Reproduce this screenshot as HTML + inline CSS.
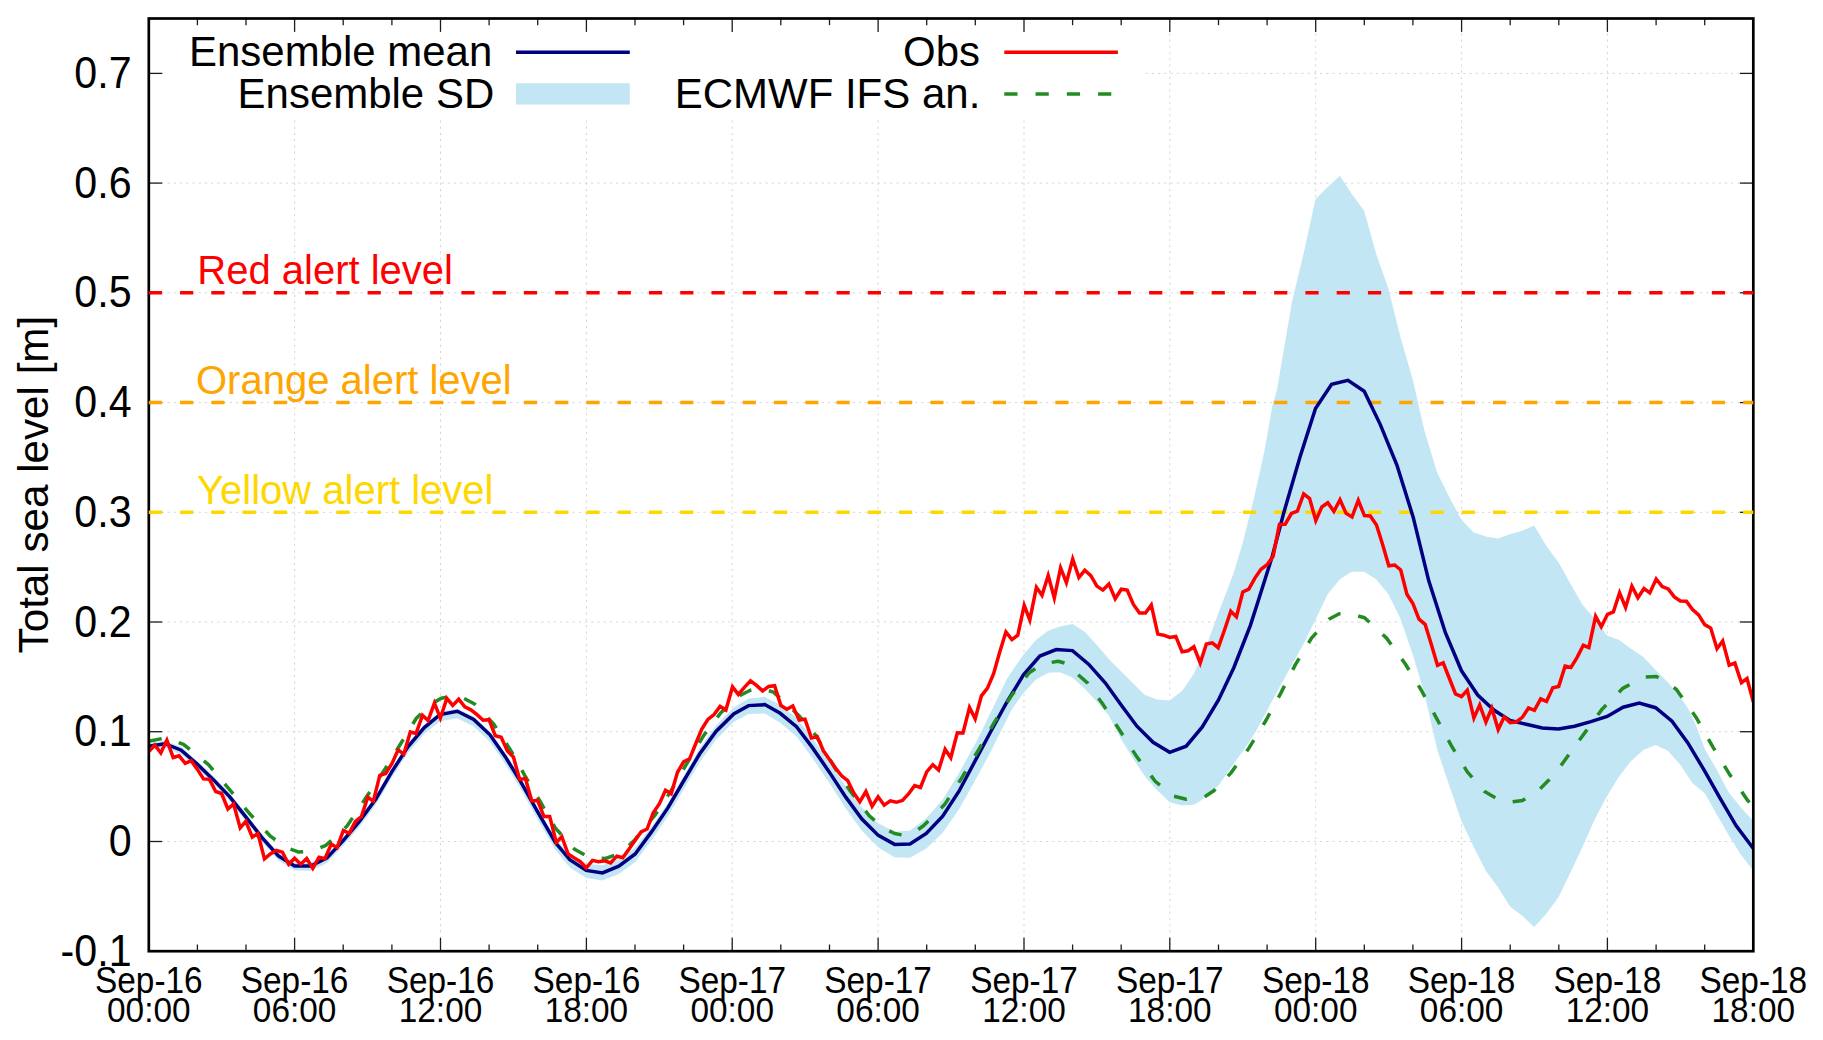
<!DOCTYPE html>
<html lang="en"><head><meta charset="utf-8"><title>Total sea level forecast</title>
<style>
html,body{margin:0;padding:0;background:#fff;}
body{width:1823px;height:1040px;overflow:hidden;}
svg{display:block;}
</style></head><body>
<svg width="1823" height="1040" viewBox="0 0 1823 1040">
<rect x="0" y="0" width="1823" height="1040" fill="#ffffff"/>
<g stroke="#d5d5d5" stroke-width="1.0" stroke-dasharray="2.2 4.03" fill="none">
<line x1="294.6" y1="951.2" x2="294.6" y2="18.5"/>
<line x1="440.5" y1="951.2" x2="440.5" y2="18.5"/>
<line x1="586.4" y1="951.2" x2="586.4" y2="18.5"/>
<line x1="732.2" y1="951.2" x2="732.2" y2="18.5"/>
<line x1="878.1" y1="951.2" x2="878.1" y2="18.5"/>
<line x1="1024.0" y1="951.2" x2="1024.0" y2="18.5"/>
<line x1="1169.8" y1="951.2" x2="1169.8" y2="18.5"/>
<line x1="1315.7" y1="951.2" x2="1315.7" y2="18.5"/>
<line x1="1461.6" y1="951.2" x2="1461.6" y2="18.5"/>
<line x1="1607.4" y1="951.2" x2="1607.4" y2="18.5"/>
<line x1="148.8" y1="841.5" x2="1753.3" y2="841.5"/>
<line x1="148.8" y1="731.7" x2="1753.3" y2="731.7"/>
<line x1="148.8" y1="622.0" x2="1753.3" y2="622.0"/>
<line x1="148.8" y1="512.3" x2="1753.3" y2="512.3"/>
<line x1="148.8" y1="402.6" x2="1753.3" y2="402.6"/>
<line x1="148.8" y1="292.8" x2="1753.3" y2="292.8"/>
<line x1="148.8" y1="183.1" x2="1753.3" y2="183.1"/>
<line x1="148.8" y1="73.4" x2="1753.3" y2="73.4"/>
</g>
<rect x="163" y="20" width="979" height="97.9" fill="#ffffff"/>
<g stroke="#1c1c1c" stroke-width="1.3" fill="none">
<line x1="148.8" y1="951.2" x2="148.8" y2="937.8"/>
<line x1="148.8" y1="18.5" x2="148.8" y2="31.9"/>
<line x1="197.4" y1="951.2" x2="197.4" y2="944.5"/>
<line x1="197.4" y1="18.5" x2="197.4" y2="25.2"/>
<line x1="246.0" y1="951.2" x2="246.0" y2="944.5"/>
<line x1="246.0" y1="18.5" x2="246.0" y2="25.2"/>
<line x1="294.6" y1="951.2" x2="294.6" y2="937.8"/>
<line x1="294.6" y1="18.5" x2="294.6" y2="31.9"/>
<line x1="343.2" y1="951.2" x2="343.2" y2="944.5"/>
<line x1="343.2" y1="18.5" x2="343.2" y2="25.2"/>
<line x1="391.9" y1="951.2" x2="391.9" y2="944.5"/>
<line x1="391.9" y1="18.5" x2="391.9" y2="25.2"/>
<line x1="440.5" y1="951.2" x2="440.5" y2="937.8"/>
<line x1="440.5" y1="18.5" x2="440.5" y2="31.9"/>
<line x1="489.1" y1="951.2" x2="489.1" y2="944.5"/>
<line x1="489.1" y1="18.5" x2="489.1" y2="25.2"/>
<line x1="537.7" y1="951.2" x2="537.7" y2="944.5"/>
<line x1="537.7" y1="18.5" x2="537.7" y2="25.2"/>
<line x1="586.4" y1="951.2" x2="586.4" y2="937.8"/>
<line x1="586.4" y1="18.5" x2="586.4" y2="31.9"/>
<line x1="635.0" y1="951.2" x2="635.0" y2="944.5"/>
<line x1="635.0" y1="18.5" x2="635.0" y2="25.2"/>
<line x1="683.6" y1="951.2" x2="683.6" y2="944.5"/>
<line x1="683.6" y1="18.5" x2="683.6" y2="25.2"/>
<line x1="732.2" y1="951.2" x2="732.2" y2="937.8"/>
<line x1="732.2" y1="18.5" x2="732.2" y2="31.9"/>
<line x1="780.8" y1="951.2" x2="780.8" y2="944.5"/>
<line x1="780.8" y1="18.5" x2="780.8" y2="25.2"/>
<line x1="829.5" y1="951.2" x2="829.5" y2="944.5"/>
<line x1="829.5" y1="18.5" x2="829.5" y2="25.2"/>
<line x1="878.1" y1="951.2" x2="878.1" y2="937.8"/>
<line x1="878.1" y1="18.5" x2="878.1" y2="31.9"/>
<line x1="926.7" y1="951.2" x2="926.7" y2="944.5"/>
<line x1="926.7" y1="18.5" x2="926.7" y2="25.2"/>
<line x1="975.3" y1="951.2" x2="975.3" y2="944.5"/>
<line x1="975.3" y1="18.5" x2="975.3" y2="25.2"/>
<line x1="1024.0" y1="951.2" x2="1024.0" y2="937.8"/>
<line x1="1024.0" y1="18.5" x2="1024.0" y2="31.9"/>
<line x1="1072.6" y1="951.2" x2="1072.6" y2="944.5"/>
<line x1="1072.6" y1="18.5" x2="1072.6" y2="25.2"/>
<line x1="1121.2" y1="951.2" x2="1121.2" y2="944.5"/>
<line x1="1121.2" y1="18.5" x2="1121.2" y2="25.2"/>
<line x1="1169.8" y1="951.2" x2="1169.8" y2="937.8"/>
<line x1="1169.8" y1="18.5" x2="1169.8" y2="31.9"/>
<line x1="1218.5" y1="951.2" x2="1218.5" y2="944.5"/>
<line x1="1218.5" y1="18.5" x2="1218.5" y2="25.2"/>
<line x1="1267.1" y1="951.2" x2="1267.1" y2="944.5"/>
<line x1="1267.1" y1="18.5" x2="1267.1" y2="25.2"/>
<line x1="1315.7" y1="951.2" x2="1315.7" y2="937.8"/>
<line x1="1315.7" y1="18.5" x2="1315.7" y2="31.9"/>
<line x1="1364.3" y1="951.2" x2="1364.3" y2="944.5"/>
<line x1="1364.3" y1="18.5" x2="1364.3" y2="25.2"/>
<line x1="1412.9" y1="951.2" x2="1412.9" y2="944.5"/>
<line x1="1412.9" y1="18.5" x2="1412.9" y2="25.2"/>
<line x1="1461.6" y1="951.2" x2="1461.6" y2="937.8"/>
<line x1="1461.6" y1="18.5" x2="1461.6" y2="31.9"/>
<line x1="1510.2" y1="951.2" x2="1510.2" y2="944.5"/>
<line x1="1510.2" y1="18.5" x2="1510.2" y2="25.2"/>
<line x1="1558.8" y1="951.2" x2="1558.8" y2="944.5"/>
<line x1="1558.8" y1="18.5" x2="1558.8" y2="25.2"/>
<line x1="1607.4" y1="951.2" x2="1607.4" y2="937.8"/>
<line x1="1607.4" y1="18.5" x2="1607.4" y2="31.9"/>
<line x1="1656.1" y1="951.2" x2="1656.1" y2="944.5"/>
<line x1="1656.1" y1="18.5" x2="1656.1" y2="25.2"/>
<line x1="1704.7" y1="951.2" x2="1704.7" y2="944.5"/>
<line x1="1704.7" y1="18.5" x2="1704.7" y2="25.2"/>
<line x1="1753.3" y1="951.2" x2="1753.3" y2="937.8"/>
<line x1="1753.3" y1="18.5" x2="1753.3" y2="31.9"/>
<line x1="148.8" y1="951.2" x2="162.2" y2="951.2"/>
<line x1="1753.3" y1="951.2" x2="1739.9" y2="951.2"/>
<line x1="148.8" y1="841.5" x2="162.2" y2="841.5"/>
<line x1="1753.3" y1="841.5" x2="1739.9" y2="841.5"/>
<line x1="148.8" y1="731.7" x2="162.2" y2="731.7"/>
<line x1="1753.3" y1="731.7" x2="1739.9" y2="731.7"/>
<line x1="148.8" y1="622.0" x2="162.2" y2="622.0"/>
<line x1="1753.3" y1="622.0" x2="1739.9" y2="622.0"/>
<line x1="148.8" y1="512.3" x2="162.2" y2="512.3"/>
<line x1="1753.3" y1="512.3" x2="1739.9" y2="512.3"/>
<line x1="148.8" y1="402.6" x2="162.2" y2="402.6"/>
<line x1="1753.3" y1="402.6" x2="1739.9" y2="402.6"/>
<line x1="148.8" y1="292.8" x2="162.2" y2="292.8"/>
<line x1="1753.3" y1="292.8" x2="1739.9" y2="292.8"/>
<line x1="148.8" y1="183.1" x2="162.2" y2="183.1"/>
<line x1="1753.3" y1="183.1" x2="1739.9" y2="183.1"/>
<line x1="148.8" y1="73.4" x2="162.2" y2="73.4"/>
<line x1="1753.3" y1="73.4" x2="1739.9" y2="73.4"/>
</g>
<defs><clipPath id="pc"><rect x="148.8" y="18.5" width="1604.5" height="932.7"/></clipPath></defs>
<g clip-path="url(#pc)">
<polygon points="148.8,743.2 165.0,740.5 181.2,747.0 197.4,761.0 213.6,776.6 229.8,793.6 246.0,813.8 262.2,834.5 278.4,852.4 294.6,862.5 310.8,862.6 327.0,854.6 343.2,837.3 359.4,818.3 375.7,796.2 391.9,768.6 408.1,743.7 424.3,724.8 440.0,711.9 457.3,708.7 473.7,716.6 490.0,731.8 505.4,753.8 520.8,778.6 538.1,809.2 555.4,837.9 569.8,854.3 586.2,863.8 602.5,865.2 618.8,859.2 635.2,847.8 651.5,826.5 667.9,803.2 684.2,775.1 699.6,748.6 716.0,725.6 733.7,707.4 748.5,698.4 764.8,696.8 780.2,704.9 796.5,717.7 811.9,737.3 829.2,761.6 845.6,786.0 861.9,807.5 878.3,823.2 894.6,831.7 910.0,830.4 926.3,818.3 942.7,799.5 959.0,773.1 977.3,740.0 1007.1,678.5 1023.5,654.4 1036.0,640.0 1048.5,630.4 1060.0,626.5 1072.5,624.0 1085.0,631.9 1097.5,645.8 1110.0,660.2 1127.3,677.5 1144.6,694.8 1157.1,699.6 1169.6,700.6 1182.3,690.8 1193.8,673.7 1205.4,648.5 1218.1,613.8 1233.1,574.6 1242.3,544.6 1253.9,498.5 1264.2,452.3 1272.3,406.2 1276.9,390.0 1291.9,302.3 1303.5,253.9 1315.5,199.2 1327.7,186.9 1339.9,175.8 1351.9,194.3 1364.2,210.7 1376.2,253.9 1388.4,288.5 1400.4,336.9 1413.1,380.8 1424.6,431.5 1437.3,473.1 1448.9,496.2 1461.1,519.2 1473.5,532.3 1485.8,536.5 1497.8,538.5 1510.0,534.2 1522.2,530.7 1534.2,525.4 1546.5,546.2 1558.5,562.3 1570.7,584.2 1582.7,605.0 1594.9,618.9 1607.2,635.5 1619.2,640.1 1631.4,648.9 1643.4,656.9 1655.6,670.1 1667.9,682.3 1680.1,696.2 1688.9,710.0 1695.8,725.0 1705.0,749.6 1716.6,769.2 1728.6,792.3 1740.8,807.3 1753.3,821.2 1753.3,870.8 1740.8,854.6 1728.6,835.0 1716.6,814.2 1705.0,793.5 1692.3,783.1 1680.1,764.6 1667.9,750.8 1655.6,745.0 1643.4,750.1 1631.4,760.7 1619.2,776.2 1607.2,795.8 1594.9,818.9 1582.7,846.5 1570.7,871.9 1558.5,897.3 1546.5,913.5 1534.2,926.9 1522.2,915.8 1510.0,906.6 1497.8,886.9 1485.8,870.8 1473.5,846.5 1461.5,821.2 1448.9,784.6 1437.3,750.0 1424.6,694.6 1413.1,655.4 1400.4,618.5 1388.4,594.2 1376.2,579.2 1364.2,571.8 1351.9,571.8 1339.9,579.2 1327.7,594.2 1315.5,619.6 1303.5,643.9 1280.0,686.2 1267.7,709.2 1255.4,732.3 1243.1,750.8 1230.8,767.7 1218.5,785.4 1206.2,796.9 1194.6,804.6 1182.3,805.4 1169.7,802.3 1157.7,790.8 1145.4,776.9 1136.9,764.6 1121.5,740.0 1108.7,715.2 1097.5,702.5 1085.0,689.0 1072.5,677.5 1060.0,672.3 1048.5,672.7 1036.0,679.4 1023.5,692.9 1011.9,709.2 996.5,740.0 990.8,751.5 975.4,780.0 959.0,809.2 942.7,832.8 926.3,848.6 910.0,857.7 894.6,857.2 878.3,847.6 861.9,830.8 845.6,808.2 829.2,782.7 811.9,757.3 796.5,736.6 780.2,722.7 764.8,713.6 748.5,714.1 733.7,722.1 716.0,739.7 699.6,762.4 684.2,788.4 667.9,816.3 651.5,840.2 635.2,862.1 618.8,874.0 602.5,880.6 586.2,878.0 569.8,867.4 555.4,850.1 538.1,820.2 520.8,789.3 505.4,764.2 490.0,742.0 473.7,726.5 457.3,718.3 440.0,721.3 424.3,734.1 408.1,752.8 391.9,777.6 375.7,805.0 359.4,826.9 343.2,845.8 327.0,862.9 310.8,870.8 294.6,870.5 278.4,860.4 262.2,842.3 246.0,821.5 229.8,801.3 213.6,784.2 197.4,768.5 181.2,754.4 165.0,747.8 148.8,750.4" fill="#c3e6f5" stroke="none"/>
<line x1="148.8" y1="292.8" x2="1753.3" y2="292.8" stroke="#ff0000" stroke-width="3.5" stroke-dasharray="13.2 18.06"/>
<line x1="148.8" y1="402.6" x2="1753.3" y2="402.6" stroke="#ffa500" stroke-width="3.5" stroke-dasharray="13.2 18.06"/>
<line x1="148.8" y1="512.3" x2="1753.3" y2="512.3" stroke="#ffd700" stroke-width="3.5" stroke-dasharray="13.2 18.06"/>
<polyline points="148.8,746.3 165.0,743.7 181.2,750.2 197.4,764.3 213.6,779.9 229.8,796.9 246.0,817.2 262.2,837.9 278.4,855.9 294.6,866.0 310.8,866.0 327.0,857.9 343.2,840.6 359.4,821.4 375.7,799.3 391.9,771.6 408.1,746.6 424.3,727.6 440.0,714.6 457.3,711.3 473.7,719.4 490.0,734.8 505.4,756.9 520.8,781.9 538.1,812.7 555.4,842.5 569.8,859.8 586.2,870.4 602.5,872.9 618.8,866.2 635.2,854.0 651.5,831.9 667.9,807.9 684.2,780.0 699.6,754.0 716.0,731.5 733.7,713.9 748.5,705.6 764.8,704.6 780.2,713.3 796.5,726.7 811.9,746.9 829.2,771.9 845.6,796.9 861.9,819.0 878.3,835.4 894.6,844.4 910.0,844.0 926.3,833.5 942.7,816.2 959.0,791.2 975.4,760.4 990.8,731.5 1007.1,701.7 1023.5,674.8 1039.8,656.0 1056.2,649.6 1072.5,650.6 1088.6,664.2 1105.4,683.1 1120.8,704.6 1136.9,726.2 1153.1,742.3 1169.7,752.3 1186.2,746.2 1202.3,726.9 1218.5,700.0 1233.8,667.7 1250.4,625.4 1258.5,600.0 1272.3,556.2 1283.9,512.3 1300.0,456.9 1315.5,408.5 1331.6,384.2 1348.0,380.3 1364.2,391.2 1380.3,424.6 1396.9,465.0 1413.1,516.9 1428.7,580.6 1445.4,632.7 1461.5,670.8 1477.7,695.0 1493.9,710.0 1510.0,720.4 1526.2,724.3 1542.3,728.0 1558.5,728.9 1574.6,726.2 1590.8,721.6 1607.2,716.5 1623.1,707.2 1639.2,703.1 1655.6,707.7 1672.0,721.1 1687.7,742.7 1704.3,770.4 1720.0,798.1 1736.2,825.8 1753.3,848.4" fill="none" stroke="#000080" stroke-width="3.5" stroke-linejoin="miter"/>
<polyline points="148.8,741.2 166.2,737.7 183.5,744.4 208.5,764.6 229.6,789.6 248.8,812.7 270.0,835.8 285.4,847.3 298.8,852.1 312.3,851.2 325.8,845.4 346.9,826.2 366.2,797.3 385.4,768.5 400.8,743.5 416.2,718.5 429.6,705.0 441.2,698.3 451.5,696.3 461.2,696.9 474.6,704.0 493.8,724.2 511.2,751.2 524.6,775.2 540.0,801.2 555.4,828.1 574.6,849.2 590.0,857.9 605.4,858.5 620.8,853.1 634.2,840.6 655.4,814.6 668.8,794.4 686.2,764.6 703.5,735.8 720.8,712.7 740.8,695.0 750.4,690.2 760.0,688.3 773.5,692.1 798.5,715.2 815.8,735.4 835.0,768.1 850.4,791.2 869.6,816.2 885.0,828.7 894.6,833.5 904.2,835.4 913.8,832.5 923.5,825.8 944.6,804.6 961.9,777.7 979.2,748.8 994.6,721.9 1011.9,695.0 1029.2,672.7 1042.7,664.0 1058.1,661.2 1064.8,663.1 1087.7,683.1 1103.1,704.6 1120.0,730.8 1136.9,756.9 1155.4,781.5 1173.8,796.2 1186.2,799.2 1204.6,796.9 1213.8,790.8 1230.8,773.1 1249.2,747.7 1266.2,720.0 1280.8,693.1 1295.4,664.6 1311.5,638.1 1328.9,619.2 1339.2,613.8 1348.5,613.4 1364.6,617.8 1386.6,638.1 1405.0,663.5 1421.2,690.0 1436.2,717.7 1451.2,745.4 1467.3,771.9 1484.6,791.6 1498.5,799.6 1512.3,801.9 1522.7,800.4 1540.0,788.9 1548.1,780.8 1560.8,765.8 1579.2,740.4 1602.3,708.9 1623.1,688.1 1643.9,677.2 1656.6,676.6 1676.2,689.2 1695.8,716.9 1713.1,747.3 1729.3,773.9 1747.7,800.4 1753.3,807.3" fill="none" stroke="#228b22" stroke-width="3.5" stroke-dasharray="13.17 18.03" stroke-linejoin="round"/>
<polyline points="148.8,751.5 154.8,745.0 160.8,753.0 166.9,740.3 173.2,757.5 179.1,755.8 185.3,763.4 191.2,760.7 197.4,769.4 203.5,778.9 209.4,779.2 215.7,791.5 221.6,793.5 227.9,809.0 233.6,804.0 240.2,827.9 245.8,821.4 252.3,837.1 257.9,833.6 264.5,858.9 270.3,854.0 276.4,850.3 282.4,852.2 288.7,864.3 294.6,858.3 300.7,864.2 306.7,858.5 312.8,868.4 319.0,857.2 324.9,858.6 331.3,844.0 337.0,847.7 343.4,830.5 349.2,833.4 355.4,821.4 361.4,816.5 367.8,797.1 373.3,801.3 379.8,775.3 385.7,773.6 391.9,763.7 398.1,749.9 403.8,754.2 410.3,731.9 416.0,733.5 422.5,715.4 428.1,720.5 434.4,703.1 440.4,718.2 446.8,698.4 452.7,705.4 458.7,699.2 464.8,706.9 470.9,709.8 477.0,714.6 483.1,720.3 489.0,719.7 495.3,735.7 501.2,737.2 507.4,751.1 513.4,756.9 519.7,779.7 525.4,778.4 531.8,800.9 537.6,800.4 543.9,816.4 549.7,816.4 556.3,842.4 561.8,836.7 568.2,854.0 574.2,857.9 580.3,861.7 586.3,867.9 592.5,860.4 598.5,861.7 604.6,860.8 610.6,862.9 616.8,856.1 622.7,857.7 628.9,849.2 635.0,840.6 641.1,831.9 647.1,829.0 653.2,812.7 659.3,804.0 665.5,790.2 671.2,793.8 677.5,772.3 683.6,761.8 689.6,758.8 695.8,743.5 701.8,729.0 707.9,719.4 714.0,714.6 720.1,706.4 725.9,710.1 732.5,686.9 738.3,694.4 744.4,687.3 750.5,680.9 756.5,685.4 762.6,690.9 768.7,686.4 774.6,685.7 780.9,705.5 786.9,709.3 792.8,706.0 799.2,720.1 805.0,719.3 811.4,737.9 817.2,736.6 823.4,750.8 829.5,759.4 835.5,768.1 841.6,775.8 847.7,780.6 853.8,793.1 859.8,801.8 865.9,791.5 872.1,806.3 878.1,796.8 884.2,805.2 890.3,800.9 896.3,802.3 902.4,800.4 908.5,794.0 914.6,785.6 920.5,787.5 926.7,771.9 932.8,764.7 938.6,770.1 945.1,749.3 950.8,757.8 957.3,732.7 963.0,733.0 969.5,707.4 975.2,718.8 981.4,695.8 987.5,688.1 993.6,673.7 999.6,652.5 1005.9,632.0 1011.9,639.6 1017.8,635.2 1024.2,605.3 1029.8,619.9 1036.4,587.3 1042.0,595.3 1048.2,575.5 1054.3,597.9 1060.6,567.8 1066.4,582.7 1072.7,559.0 1078.9,577.4 1084.8,570.3 1090.8,575.6 1096.9,586.1 1102.9,590.1 1108.9,584.1 1115.2,598.8 1121.3,589.2 1127.2,590.1 1133.4,604.4 1139.5,613.0 1145.5,613.0 1151.3,604.9 1157.8,634.1 1163.7,635.2 1169.8,637.5 1175.8,636.4 1182.1,651.7 1188.1,650.8 1193.9,646.8 1200.2,663.0 1206.4,644.0 1212.3,642.8 1218.2,647.7 1224.5,630.0 1230.8,611.3 1236.4,616.9 1242.8,592.0 1248.8,589.1 1254.9,578.1 1261.0,569.3 1267.1,564.7 1273.1,556.2 1279.4,524.5 1285.2,524.2 1291.4,513.5 1297.4,511.1 1303.7,493.9 1309.6,498.5 1315.8,520.6 1321.8,507.0 1327.8,502.8 1333.9,511.4 1340.0,499.8 1346.1,513.4 1352.0,516.9 1358.3,500.3 1364.4,515.6 1370.3,515.9 1376.5,525.0 1382.6,544.6 1388.8,565.8 1394.7,565.0 1400.7,570.0 1406.9,594.2 1412.9,603.5 1419.0,619.1 1425.1,624.3 1431.2,643.9 1437.5,665.3 1443.2,662.8 1449.4,678.5 1455.5,693.9 1461.5,696.7 1467.3,690.1 1473.9,718.1 1479.7,704.9 1485.9,722.0 1491.8,708.2 1498.2,729.6 1504.2,717.0 1510.2,722.6 1516.2,722.0 1522.3,717.4 1528.5,708.0 1534.4,710.4 1540.7,698.8 1546.5,701.5 1552.8,687.7 1558.7,686.4 1565.1,666.1 1570.9,667.5 1577.0,657.6 1583.3,645.3 1588.9,647.6 1595.6,616.3 1601.3,626.8 1607.5,614.3 1613.4,611.9 1619.6,592.8 1625.6,607.4 1631.9,586.1 1637.9,597.7 1644.0,588.6 1649.8,592.9 1656.2,579.0 1662.2,586.5 1668.2,588.9 1674.3,596.9 1680.4,601.0 1686.4,601.2 1692.5,609.6 1698.6,614.9 1704.7,624.6 1710.7,628.1 1717.0,648.7 1722.7,641.0 1729.2,665.2 1734.9,663.1 1741.4,682.7 1747.0,678.5 1753.3,701.9" fill="none" stroke="#ff0000" stroke-width="3.5" stroke-linejoin="miter" stroke-miterlimit="10"/>
</g>
<rect x="148.8" y="18.5" width="1604.5" height="932.7" fill="none" stroke="#000000" stroke-width="2.7"/>
<line x1="148.75" y1="292.8" x2="150.6" y2="292.8" stroke="#ff0000" stroke-width="3.5"/>
<line x1="1751.7" y1="292.8" x2="1753.3" y2="292.8" stroke="#ff0000" stroke-width="3.5"/>
<line x1="148.75" y1="402.6" x2="150.6" y2="402.6" stroke="#ffa500" stroke-width="3.5"/>
<line x1="1751.7" y1="402.6" x2="1753.3" y2="402.6" stroke="#ffa500" stroke-width="3.5"/>
<line x1="148.75" y1="512.3" x2="150.6" y2="512.3" stroke="#ffd700" stroke-width="3.5"/>
<line x1="1751.7" y1="512.3" x2="1753.3" y2="512.3" stroke="#ffd700" stroke-width="3.5"/>
<g font-family="Liberation Sans, Arial, Helvetica, sans-serif">
<text transform="translate(131.6,965.8) scale(1,1.070)" font-size="41.2" text-anchor="end" fill="#000000">-0.1</text>
<text transform="translate(131.6,856.1) scale(1,1.070)" font-size="41.2" text-anchor="end" fill="#000000">0</text>
<text transform="translate(131.6,746.3) scale(1,1.070)" font-size="41.2" text-anchor="end" fill="#000000">0.1</text>
<text transform="translate(131.6,636.6) scale(1,1.070)" font-size="41.2" text-anchor="end" fill="#000000">0.2</text>
<text transform="translate(131.6,526.9) scale(1,1.070)" font-size="41.2" text-anchor="end" fill="#000000">0.3</text>
<text transform="translate(131.6,417.2) scale(1,1.070)" font-size="41.2" text-anchor="end" fill="#000000">0.4</text>
<text transform="translate(131.6,307.4) scale(1,1.070)" font-size="41.2" text-anchor="end" fill="#000000">0.5</text>
<text transform="translate(131.6,197.7) scale(1,1.070)" font-size="41.2" text-anchor="end" fill="#000000">0.6</text>
<text transform="translate(131.6,88.0) scale(1,1.070)" font-size="41.2" text-anchor="end" fill="#000000">0.7</text>
<text transform="translate(148.8,993.2) scale(1,1.100)" font-size="33.4" text-anchor="middle" fill="#000000">Sep-16</text>
<text transform="translate(148.8,1021.9) scale(1,1.050)" font-size="33.4" text-anchor="middle" fill="#000000">00:00</text>
<text transform="translate(294.6,993.2) scale(1,1.100)" font-size="33.4" text-anchor="middle" fill="#000000">Sep-16</text>
<text transform="translate(294.6,1021.9) scale(1,1.050)" font-size="33.4" text-anchor="middle" fill="#000000">06:00</text>
<text transform="translate(440.5,993.2) scale(1,1.100)" font-size="33.4" text-anchor="middle" fill="#000000">Sep-16</text>
<text transform="translate(440.5,1021.9) scale(1,1.050)" font-size="33.4" text-anchor="middle" fill="#000000">12:00</text>
<text transform="translate(586.4,993.2) scale(1,1.100)" font-size="33.4" text-anchor="middle" fill="#000000">Sep-16</text>
<text transform="translate(586.4,1021.9) scale(1,1.050)" font-size="33.4" text-anchor="middle" fill="#000000">18:00</text>
<text transform="translate(732.2,993.2) scale(1,1.100)" font-size="33.4" text-anchor="middle" fill="#000000">Sep-17</text>
<text transform="translate(732.2,1021.9) scale(1,1.050)" font-size="33.4" text-anchor="middle" fill="#000000">00:00</text>
<text transform="translate(878.1,993.2) scale(1,1.100)" font-size="33.4" text-anchor="middle" fill="#000000">Sep-17</text>
<text transform="translate(878.1,1021.9) scale(1,1.050)" font-size="33.4" text-anchor="middle" fill="#000000">06:00</text>
<text transform="translate(1024.0,993.2) scale(1,1.100)" font-size="33.4" text-anchor="middle" fill="#000000">Sep-17</text>
<text transform="translate(1024.0,1021.9) scale(1,1.050)" font-size="33.4" text-anchor="middle" fill="#000000">12:00</text>
<text transform="translate(1169.8,993.2) scale(1,1.100)" font-size="33.4" text-anchor="middle" fill="#000000">Sep-17</text>
<text transform="translate(1169.8,1021.9) scale(1,1.050)" font-size="33.4" text-anchor="middle" fill="#000000">18:00</text>
<text transform="translate(1315.7,993.2) scale(1,1.100)" font-size="33.4" text-anchor="middle" fill="#000000">Sep-18</text>
<text transform="translate(1315.7,1021.9) scale(1,1.050)" font-size="33.4" text-anchor="middle" fill="#000000">00:00</text>
<text transform="translate(1461.6,993.2) scale(1,1.100)" font-size="33.4" text-anchor="middle" fill="#000000">Sep-18</text>
<text transform="translate(1461.6,1021.9) scale(1,1.050)" font-size="33.4" text-anchor="middle" fill="#000000">06:00</text>
<text transform="translate(1607.4,993.2) scale(1,1.100)" font-size="33.4" text-anchor="middle" fill="#000000">Sep-18</text>
<text transform="translate(1607.4,1021.9) scale(1,1.050)" font-size="33.4" text-anchor="middle" fill="#000000">12:00</text>
<text transform="translate(1753.3,993.2) scale(1,1.100)" font-size="33.4" text-anchor="middle" fill="#000000">Sep-18</text>
<text transform="translate(1753.3,1021.9) scale(1,1.050)" font-size="33.4" text-anchor="middle" fill="#000000">18:00</text>
<text transform="translate(48.3,484.6) rotate(-90) scale(1,1.000)" font-size="42.2" text-anchor="middle" fill="#000000">Total sea level [m]</text>
<text transform="translate(197.3,284.0) scale(1,1.000)" font-size="40.0" text-anchor="start" fill="#ff0000">Red alert level</text>
<text transform="translate(196.0,393.6) scale(1,1.000)" font-size="40.0" text-anchor="start" fill="#ffa500">Orange alert level</text>
<text transform="translate(197.0,503.7) scale(1,1.000)" font-size="40.0" text-anchor="start" fill="#ffd700">Yellow alert level</text>
<text transform="translate(492.3,66.1) scale(1,1.015)" font-size="42.0" text-anchor="end" fill="#000000">Ensemble mean</text>
<text transform="translate(494.2,108.2) scale(1,1.015)" font-size="42.0" text-anchor="end" fill="#000000">Ensemble SD</text>
<text transform="translate(980.0,66.1) scale(1,1.015)" font-size="42.0" text-anchor="end" fill="#000000">Obs</text>
<text transform="translate(980.3,108.2) scale(1,1.015)" font-size="42.0" text-anchor="end" fill="#000000">ECMWF IFS an.</text>
</g>
<line x1="516" y1="52.25" x2="629.8" y2="52.25" stroke="#000080" stroke-width="3.5"/>
<rect x="516" y="83.2" width="113.8" height="21.4" fill="#c3e6f5"/>
<line x1="1004.3" y1="52.3" x2="1117.9" y2="52.3" stroke="#ff0000" stroke-width="3.5"/>
<line x1="1004.3" y1="94.0" x2="1117.9" y2="94.0" stroke="#228b22" stroke-width="3.5" stroke-dasharray="13.2 18.06"/>
</svg>
</body></html>
